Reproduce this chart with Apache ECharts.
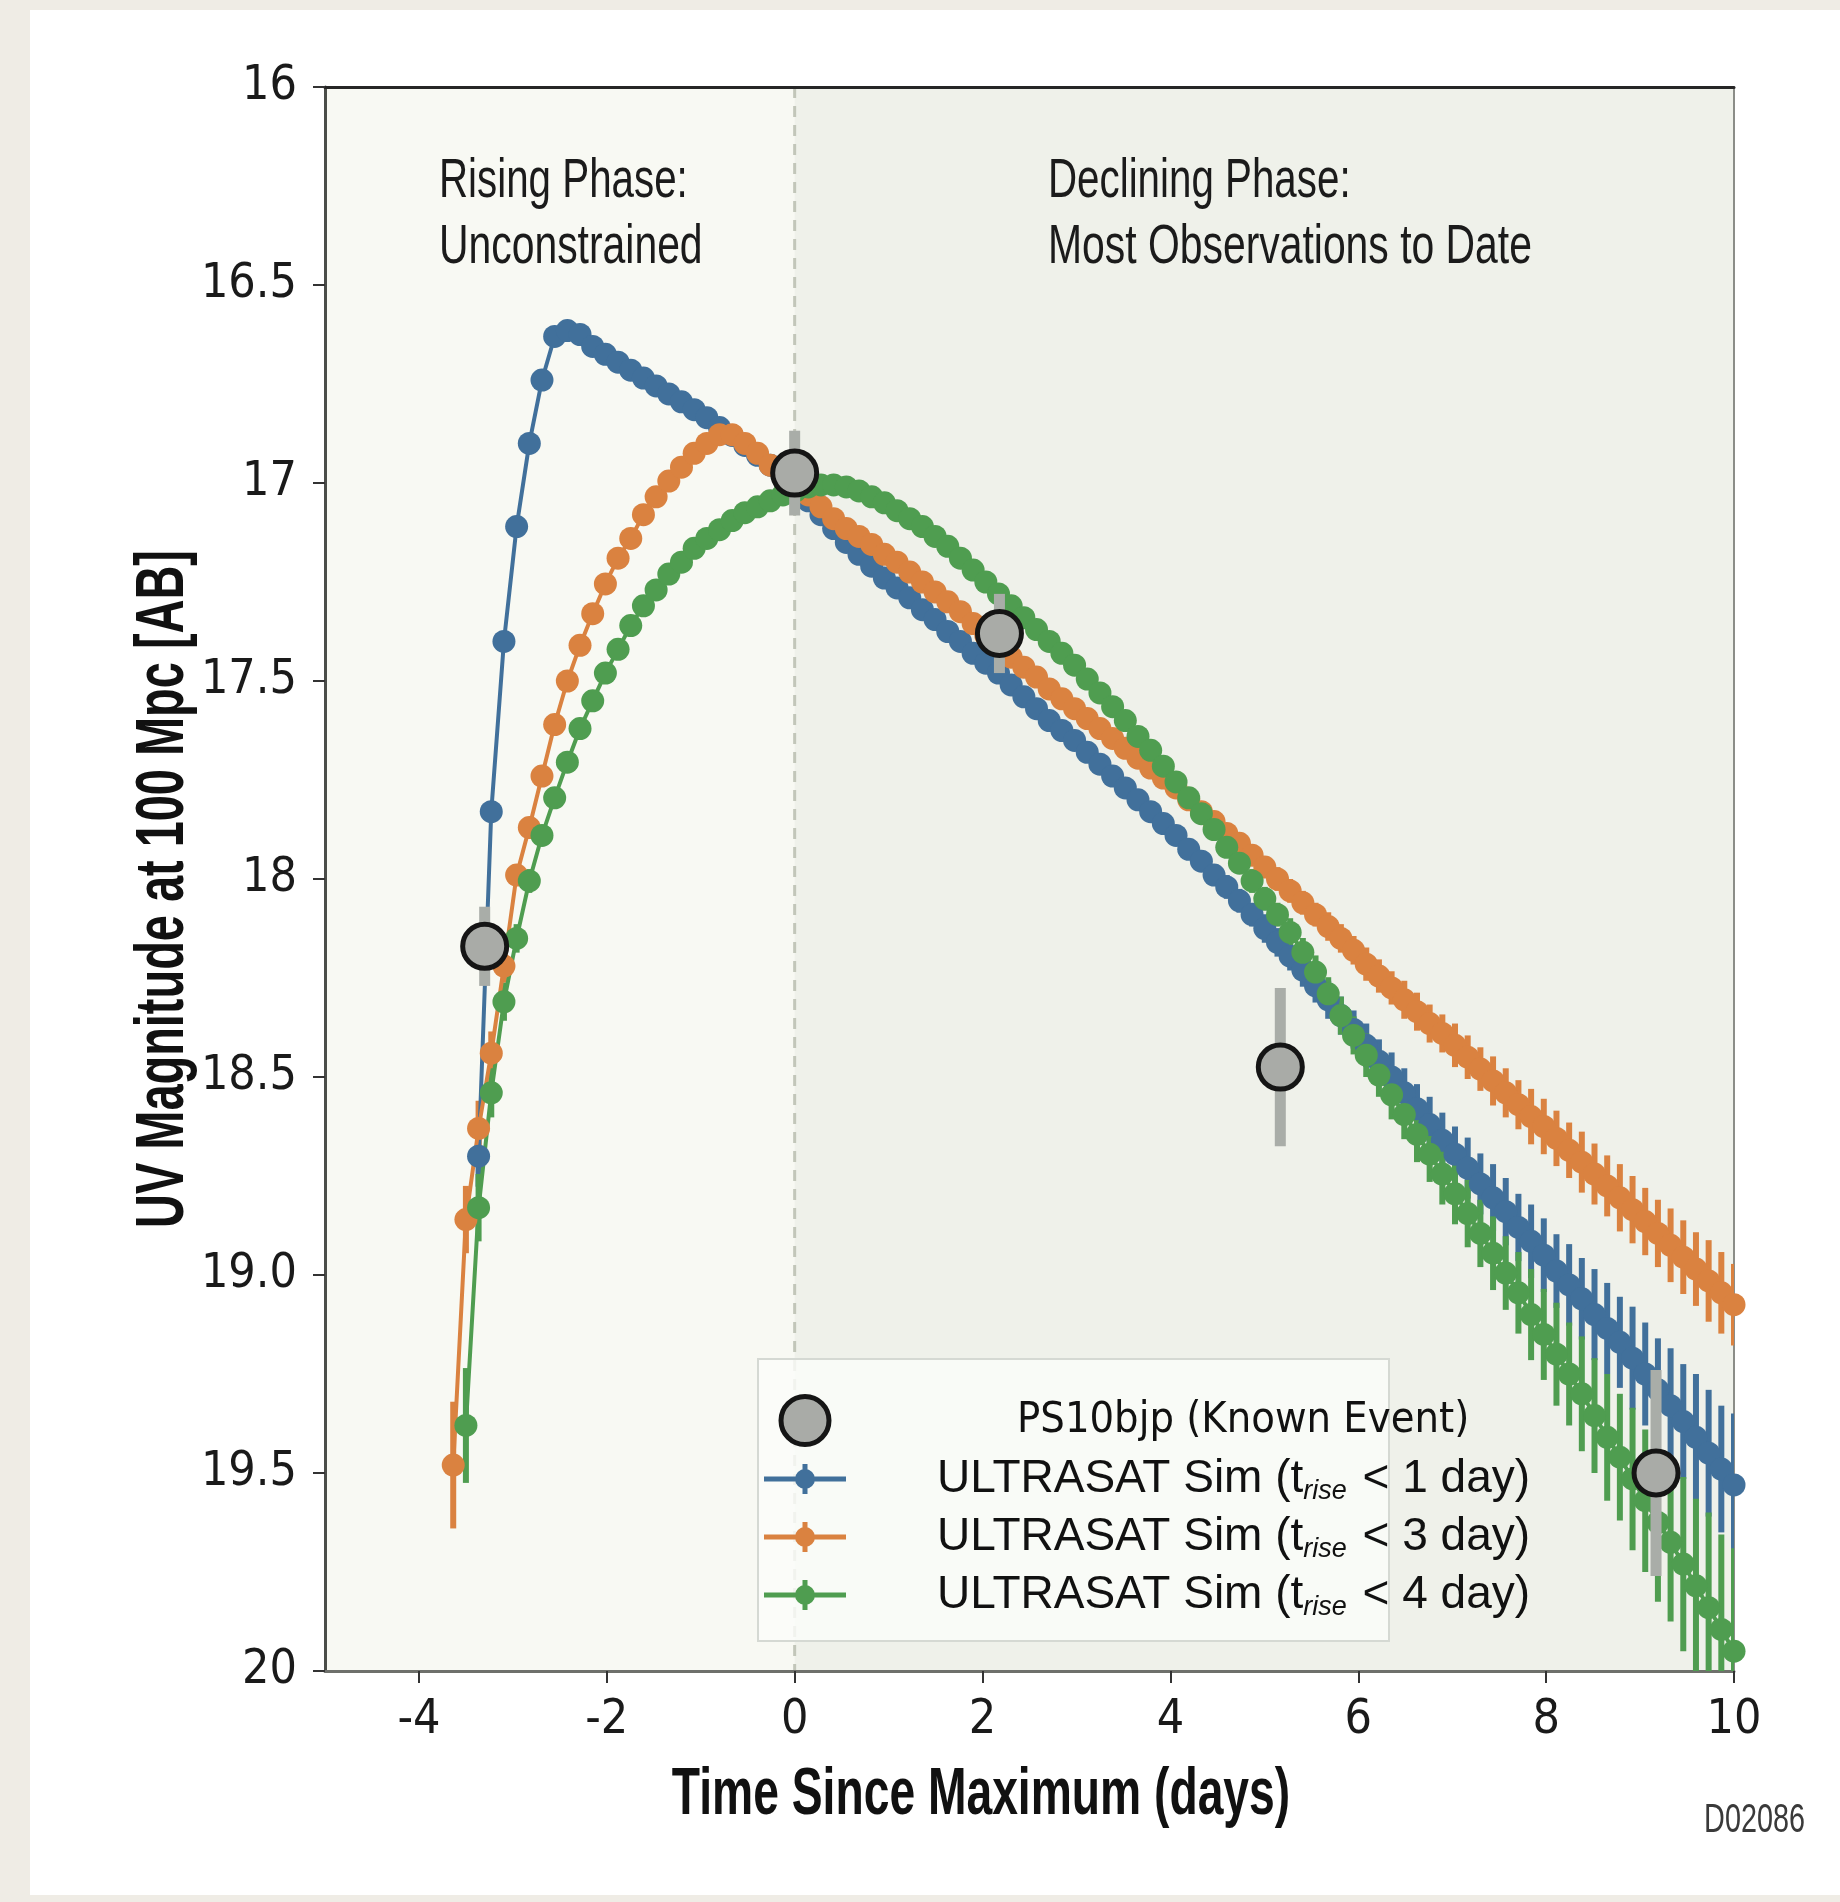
<!DOCTYPE html>
<html><head><meta charset="utf-8">
<script src="https://cdn.jsdelivr.net/npm/echarts@6/dist/echarts.min.js"></script>
<style>
html,body{margin:0;padding:0;background:#efece5;width:1840px;height:1902px;overflow:hidden;}
#chart{position:absolute;left:0;top:0;width:1840px;height:1902px;}
</style></head><body>
<div id="chart"></div>
<script>
// ---------------- data ----------------
const timeDays = [
-3.635,-3.5,-3.365,-3.23,-3.095,-2.96,-2.825,-2.69,-2.555,-2.42,
-2.285,-2.15,-2.015,-1.88,-1.745,-1.61,-1.475,-1.34,-1.205,-1.07,
-0.935,-0.8,-0.665,-0.53,-0.395,-0.26,-0.125,0.01,0.145,0.28,
0.415,0.55,0.685,0.82,0.955,1.09,1.225,1.36,1.495,1.63,
1.765,1.9,2.035,2.17,2.305,2.44,2.575,2.71,2.845,2.98,
3.115,3.25,3.385,3.52,3.655,3.79,3.925,4.06,4.195,4.33,
4.465,4.6,4.735,4.87,5.005,5.14,5.275,5.41,5.545,5.68,
5.815,5.95,6.085,6.22,6.355,6.49,6.625,6.76,6.895,7.03,
7.165,7.3,7.435,7.57,7.705,7.84,7.975,8.11,8.245,8.38,
8.515,8.65,8.785,8.92,9.055,9.19,9.325,9.46,9.595,9.73,
9.865,10.0];

const blueMag = [
null,null,18.70,17.83,17.40,17.11,16.90,16.74,16.63,16.615,
16.625,16.655,16.675,16.695,16.715,16.735,16.755,16.775,16.795,16.815,
16.835,16.86,16.88,16.905,16.93,16.955,16.985,17.01,17.045,17.08,
17.115,17.15,17.18,17.21,17.24,17.265,17.29,17.32,17.345,17.375,
17.40,17.43,17.455,17.48,17.51,17.54,17.57,17.60,17.625,17.65,
17.68,17.71,17.74,17.77,17.80,17.83,17.86,17.89,17.925,17.955,
17.99,18.02,18.055,18.09,18.125,18.16,18.195,18.23,18.27,18.305,
18.345,18.38,18.42,18.46,18.50,18.54,18.58,18.62,18.66,18.695,
18.73,18.77,18.805,18.84,18.88,18.915,18.95,18.99,19.025,19.06,
19.10,19.135,19.17,19.21,19.25,19.29,19.33,19.37,19.41,19.45,
19.49,19.53];
const blueErr = [
null,null,0.077,0.02,0.005,0.005,0.005,0.005,0.005,0.005,
0.005,0.005,0.005,0.005,0.005,0.005,0.005,0.005,0.005,0.005,
0.005,0.005,0.005,0.005,0.005,0.005,0.005,0.005,0.005,0.005,
0.005,0.005,0.005,0.005,0.005,0.005,0.005,0.005,0.005,0.005,
0.005,0.005,0.005,0.005,0.008,0.008,0.008,0.01,0.01,0.01,
0.01,0.015,0.015,0.015,0.02,0.02,0.02,0.02,0.025,0.025,
0.025,0.03,0.03,0.03,0.036,0.036,0.036,0.042,0.042,0.048,
0.048,0.048,0.055,0.055,0.062,0.062,0.062,0.07,0.07,0.07,
0.077,0.077,0.085,0.085,0.085,0.093,0.093,0.093,0.103,0.103,
0.115,0.115,0.115,0.13,0.13,0.13,0.145,0.145,0.16,0.16,
0.16,0.18];

const orangeMag = [
19.48,18.86,18.63,18.44,18.22,17.99,17.87,17.74,17.61,17.50,
17.41,17.33,17.255,17.19,17.14,17.08,17.035,16.995,16.96,16.925,
16.90,16.878,16.878,16.90,16.925,16.955,16.98,17.00,17.03,17.06,
17.09,17.115,17.135,17.155,17.18,17.20,17.225,17.25,17.275,17.30,
17.325,17.355,17.385,17.41,17.44,17.465,17.49,17.52,17.545,17.57,
17.595,17.62,17.645,17.67,17.695,17.72,17.745,17.77,17.80,17.83,
17.855,17.885,17.91,17.94,17.97,18.00,18.03,18.06,18.09,18.12,
18.15,18.18,18.215,18.245,18.275,18.305,18.335,18.365,18.39,18.42,
18.45,18.48,18.51,18.54,18.57,18.60,18.625,18.655,18.685,18.715,
18.745,18.775,18.805,18.835,18.865,18.895,18.925,18.955,18.985,19.015,
19.045,19.075];
const orangeErr = [
0.16,0.085,0.07,0.055,0.042,0.025,0.02,0.015,0.01,0.008,
0.005,0.005,0.005,0.005,0.005,0.005,0.005,0.005,0.005,0.005,
0.005,0.005,0.005,0.005,0.005,0.005,0.005,0.005,0.005,0.005,
0.005,0.005,0.005,0.005,0.005,0.005,0.005,0.005,0.005,0.005,
0.005,0.005,0.005,0.005,0.005,0.005,0.005,0.008,0.008,0.008,
0.008,0.01,0.01,0.01,0.01,0.015,0.015,0.015,0.02,0.02,
0.02,0.02,0.025,0.025,0.025,0.03,0.03,0.03,0.03,0.036,
0.036,0.036,0.042,0.042,0.042,0.048,0.048,0.048,0.048,0.055,
0.055,0.055,0.062,0.062,0.062,0.07,0.07,0.07,0.07,0.077,
0.077,0.077,0.085,0.085,0.085,0.085,0.093,0.093,0.093,0.103,
0.103,0.103];

const greenMag = [
null,19.38,18.83,18.54,18.31,18.15,18.005,17.89,17.795,17.705,
17.62,17.55,17.48,17.42,17.36,17.31,17.27,17.23,17.20,17.165,
17.14,17.118,17.095,17.075,17.06,17.045,17.03,17.02,17.01,17.005,
17.005,17.01,17.02,17.035,17.05,17.07,17.09,17.11,17.135,17.16,
17.19,17.22,17.25,17.28,17.31,17.34,17.37,17.40,17.43,17.46,
17.495,17.53,17.565,17.60,17.64,17.675,17.715,17.755,17.795,17.835,
17.875,17.92,17.96,18.005,18.05,18.09,18.135,18.185,18.235,18.29,
18.345,18.395,18.445,18.495,18.545,18.595,18.645,18.695,18.745,18.795,
18.845,18.895,18.945,18.995,19.045,19.10,19.15,19.20,19.25,19.30,
19.355,19.41,19.46,19.515,19.57,19.625,19.675,19.73,19.785,19.84,
19.895,19.95];
const greenErr = [
null,0.145,0.085,0.062,0.048,0.036,0.03,0.02,0.015,0.015,
0.01,0.008,0.005,0.005,0.005,0.005,0.005,0.005,0.005,0.005,
0.005,0.005,0.005,0.005,0.005,0.005,0.005,0.005,0.005,0.005,
0.005,0.005,0.005,0.005,0.005,0.005,0.005,0.005,0.005,0.005,
0.005,0.005,0.005,0.005,0.005,0.005,0.005,0.005,0.005,0.005,
0.005,0.008,0.008,0.01,0.01,0.01,0.015,0.015,0.015,0.02,
0.02,0.025,0.025,0.03,0.03,0.03,0.036,0.036,0.042,0.042,
0.048,0.048,0.055,0.055,0.062,0.062,0.07,0.07,0.077,0.077,
0.085,0.085,0.093,0.093,0.103,0.115,0.115,0.13,0.13,0.145,
0.145,0.16,0.16,0.18,0.18,0.2,0.2,0.22,0.22,0.24,
0.24,0.26];

const eventTime = [-3.30, 0.0, 2.18, 5.17, 9.17];
const eventMag  = [18.17, 16.975, 17.38, 18.475, 19.50];
const eventErr  = [0.10, 0.107, 0.10, 0.20, 0.26];

const xTickValues = [-4, -2, 0, 2, 4, 6, 8, 10];
const yTickValues = [16, 16.5, 17, 17.5, 18, 18.5, 19, 19.5, 20];
const yTickLabels = ['16', '16.5', '17', '17.5', '18', '18.5', '19.0', '19.5', '20'];
const declinePhase = [0, 10];   // start / end of the declining-phase band (days)
const magRange = [16, 20];

const EVT = 'PS10bjp (Known Event)';
const SIM1 = 'ULTRASAT Sim (t_rise < 1 day)';
const SIM3 = 'ULTRASAT Sim (t_rise < 3 day)';
const SIM4 = 'ULTRASAT Sim (t_rise < 4 day)';

// ---------------- styles ----------------
const BLUE = '#41709b', ORANGE = '#da8240', GREEN = '#4f9d50';
const COND = '"Liberation Sans Narrow","DejaVu Sans Condensed","Roboto Condensed","Liberation Sans",sans-serif';
const REG = '"Liberation Sans","Noto Sans",sans-serif';

function pts(mag) {
  const out = [];
  mag.forEach((m, i) => { if (m != null) out.push([timeDays[i], m]); });
  return out;
}
function bars(mag, err) {
  const out = [];
  mag.forEach((m, i) => { if (m != null) out.push([timeDays[i], m - err[i], m + err[i]]); });
  return out;
}
function errRender(color, width) {
  return function (params, api) {
    const p1 = api.coord([api.value(0), api.value(1)]);
    const p2 = api.coord([api.value(0), api.value(2)]);
    return { type: 'line', shape: { x1: p1[0], y1: p1[1], x2: p2[0], y2: p2[1] },
      style: { stroke: color, lineWidth: width } };
  };
}
function simSeries(name, color, mag, err) {
  return [
    { type: 'custom', name: name, data: bars(mag, err), renderItem: errRender(color, 6),
      encode: { x: 0, y: [1, 2] }, clip: true, silent: true, z: 2 },
    { type: 'line', name: name, data: pts(mag), symbol: 'circle', symbolSize: 23, showSymbol: true,
      lineStyle: { color: color, width: 4 }, itemStyle: { color: color, borderWidth: 0 },
      clip: true, silent: true, z: 2 }
  ];
}

const ICON = 'path://M0,0 L0.1,0 L0.1,0.1 Z M81.9,47.9 L82,47.9 L82,48 Z ' +
  'M0,21.5 L82,21.5 L82,26.5 L0,26.5 Z M38.5,9 L43.5,9 L43.5,39 L38.5,39 Z ' +
  'M51,24 A10,10 0 1 1 31,24 A10,10 0 1 1 51,24 Z';

const chart = echarts.init(document.getElementById('chart'), null, { renderer: 'canvas', width: 1840, height: 1902 });

const option = {
  animation: false,
  backgroundColor: '#efece5',
  grid: { left: 325, right: 106, top: 87, bottom: 231, show: true,
          backgroundColor: '#f8f9f3', borderWidth: 0 },
  xAxis: [
    { type: 'value', min: -5, max: 10, position: 'bottom',
      axisLine: { show: true, onZero: false, lineStyle: { color: '#6e706b', width: 3 } },
      axisTick: { show: true, customValues: xTickValues, length: 12, lineStyle: { color: '#333', width: 2 } },
      axisLabel: { customValues: xTickValues, fontSize: 48, color: '#1a1a1a', fontFamily: COND, margin: 26 },
      splitLine: { show: false } },
    { type: 'value', min: -5, max: 10, position: 'top',
      axisLine: { show: true, onZero: false, lineStyle: { color: '#262626', width: 3 } },
      axisTick: { show: false }, axisLabel: { show: false }, splitLine: { show: false } }
  ],
  yAxis: [
    { type: 'value', min: magRange[0], max: magRange[1], interval: 0.5, inverse: true,
      axisLine: { show: true, onZero: false, lineStyle: { color: '#4b4d49', width: 3 } },
      axisTick: { show: true, length: 12, lineStyle: { color: '#333', width: 2 } },
      axisLabel: { fontSize: 48, color: '#1a1a1a', fontFamily: COND, margin: 28,
        formatter: function (v) {
          const i = yTickValues.findIndex(t => Math.abs(t - v) < 1e-6);
          return i >= 0 ? yTickLabels[i] : '';
        } },
      splitLine: { show: false } },
    { type: 'value', min: magRange[0], max: magRange[1], interval: 0.5, inverse: true, position: 'right',
      axisLine: { show: true, onZero: false, lineStyle: { color: '#8b8d88', width: 2 } },
      axisTick: { show: false }, axisLabel: { show: false }, splitLine: { show: false } }
  ],
  legend: {
    orient: 'vertical', left: 764, top: 1394, padding: 0, itemGap: 8,
    itemWidth: 82, itemHeight: 48, symbolKeepAspect: true, z: 60,
    selectedMode: false,
    data: [
      { name: EVT, icon: 'circle', itemStyle: { color: '#a9aba7', borderColor: '#151515', borderWidth: 5 } },
      { name: SIM1, icon: ICON, itemStyle: { color: BLUE, borderWidth: 0 } },
      { name: SIM3, icon: ICON, itemStyle: { color: ORANGE, borderWidth: 0 } },
      { name: SIM4, icon: ICON, itemStyle: { color: GREEN, borderWidth: 0 } }
    ],
    formatter: function (name) {
      if (name.indexOf('_rise') < 0) return '{g2| }{c|' + name + '}';
      const parts = name.split('_rise');
      return '{g1| }{n|' + parts[0] + '}{s|rise}{n|' + parts[1] + '}';
    },
    textStyle: {
      color: '#111',
      rich: {
        g1: { width: 86, fontSize: 44, lineHeight: 52 },
        g2: { width: 166, fontSize: 44, lineHeight: 52 },
        n: { fontSize: 46, fontFamily: REG, color: '#111', lineHeight: 52 },
        c: { fontSize: 43, fontFamily: COND, color: '#111', lineHeight: 52 },
        s: { fontSize: 27, fontStyle: 'italic', fontFamily: REG, color: '#111', lineHeight: 26,
             verticalAlign: 'bottom', padding: [0, 3, 0, 0] }
      }
    }
  },
  graphic: [
    { type: 'rect', x: 30, y: 10, z: -100, silent: true,
      shape: { width: 1810, height: 1885 }, style: { fill: '#ffffff' } },
    { type: 'rect', left: 757, top: 1358, z: 50, silent: true,
      shape: { width: 631, height: 282 },
      style: { fill: 'rgba(251,252,250,0.82)', stroke: '#d5d9d3', lineWidth: 2 } },
    { type: 'text', x: 439, y: 182, scaleX: 0.72, z: 20, silent: true,
      style: { text: 'Rising Phase:', font: '56px "Liberation Sans"', fill: '#1b1b1b', align: 'left', verticalAlign: 'middle' } },
    { type: 'text', x: 439, y: 248, scaleX: 0.73, z: 20, silent: true,
      style: { text: 'Unconstrained', font: '56px "Liberation Sans"', fill: '#1b1b1b', align: 'left', verticalAlign: 'middle' } },
    { type: 'text', x: 1048, y: 182, scaleX: 0.72, z: 20, silent: true,
      style: { text: 'Declining Phase:', font: '56px "Liberation Sans"', fill: '#1b1b1b', align: 'left', verticalAlign: 'middle' } },
    { type: 'text', x: 1048, y: 248, scaleX: 0.73, z: 20, silent: true,
      style: { text: 'Most Observations to Date', font: '56px "Liberation Sans"', fill: '#1b1b1b', align: 'left', verticalAlign: 'middle' } },
    { type: 'text', x: 164, y: 889, rotation: Math.PI / 2, scaleX: 0.69, z: 20, silent: true,
      style: { text: 'UV Magnitude at 100 Mpc [AB]', font: 'bold 68px "Liberation Sans"', fill: '#111', align: 'center', verticalAlign: 'middle' } },
    { type: 'text', x: 981, y: 1796, scaleX: 0.69, z: 20, silent: true,
      style: { text: 'Time Since Maximum (days)', font: 'bold 67px "Liberation Sans"', fill: '#111', align: 'center', verticalAlign: 'middle' } },
    { type: 'text', x: 1805, y: 1821, scaleX: 0.72, z: 20, silent: true,
      style: { text: 'D02086', font: '40px "Liberation Sans"', fill: '#3a3a3a', align: 'right', verticalAlign: 'middle' } }
  ],
  series: [
    { type: 'custom', name: 'phase', silent: true, z: 0, data: [declinePhase],
      renderItem: function (params, api) {
        const a = api.coord([api.value(0), magRange[0]]);
        const b = api.coord([api.value(1), magRange[1]]);
        return { type: 'group', children: [
          { type: 'rect', shape: { x: a[0], y: a[1], width: b[0] - a[0], height: b[1] - a[1] },
            style: { fill: '#eff1ea' } },
          { type: 'line', shape: { x1: a[0], y1: a[1], x2: a[0], y2: b[1] },
            style: { stroke: '#c2c6b9', lineWidth: 3, lineDash: [11, 8] } }
        ] };
      } },
    ...simSeries(SIM1, BLUE, blueMag, blueErr),
    ...simSeries(SIM3, ORANGE, orangeMag, orangeErr),
    ...simSeries(SIM4, GREEN, greenMag, greenErr),
    { type: 'custom', name: EVT, silent: true, z: 3,
      data: eventMag.map((m, i) => [eventTime[i], m - eventErr[i], m + eventErr[i]]),
      encode: { x: 0, y: [1, 2] }, renderItem: errRender('#a9ada8', 11) },
    { type: 'scatter', name: EVT, silent: true, z: 4,
      data: eventMag.map((m, i) => [eventTime[i], m]),
      symbol: 'circle', symbolSize: 44,
      itemStyle: { color: '#a9aba7', borderColor: '#151515', borderWidth: 5, opacity: 1 } }
  ]
};
chart.setOption(option);
</script>
</body></html>
